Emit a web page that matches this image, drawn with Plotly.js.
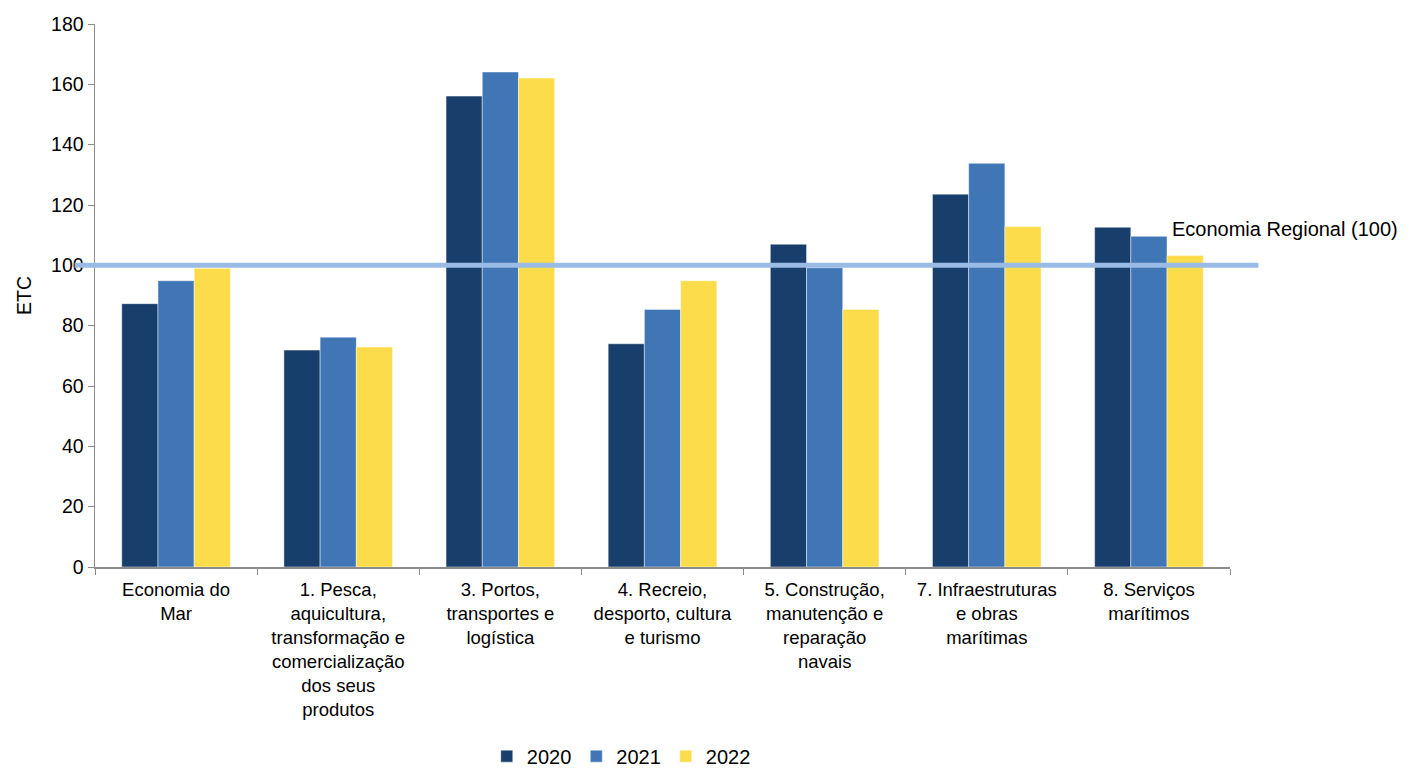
<!DOCTYPE html>
<html>
<head>
<meta charset="utf-8">
<script src="https://cdn.plot.ly/plotly-3.0.1.min.js"></script>
<style>html,body{margin:0;padding:0;background:#fff;}#chart{width:1412px;height:770px;}</style>
</head>
<body>
<div id="chart"></div>
<script>
const categories = [
  "Economia do<br>Mar",
  "1. Pesca,<br>aquicultura,<br>transformação e<br>comercialização<br>dos seus<br>produtos",
  "3. Portos,<br>transportes e<br>logística",
  "4. Recreio,<br>desporto, cultura<br>e turismo",
  "5. Construção,<br>manutenção e<br>reparação<br>navais",
  "7. Infraestruturas<br>e obras<br>marítimas",
  "8. Serviços<br>marítimos"
];
const values2020 = [87.3, 71.9, 156.1, 74.0, 107.0, 123.6, 112.6];
const values2021 = [94.9, 76.2, 164.1, 85.4, 99.2, 133.8, 109.6];
const values2022 = [99.0, 72.9, 162.1, 94.9, 85.4, 112.9, 103.3];
const seriesNames = ["2020", "2021", "2022"];
const referenceValue = 100;
const referenceLabel = "Economia Regional (100)";
const yTickValues = [0, 20, 40, 60, 80, 100, 120, 140, 160, 180];

const colors = ["#183f6b", "#4076b5", "#fcdc4b"];
const allValues = [values2020, values2021, values2022];
const traces = allValues.map((v, i) => ({
  type: "bar",
  name: seriesNames[i],
  x: categories,
  y: v,
  marker: {color: colors[i], line: {color: "rgba(255,255,255,0.45)", width: 1}},
  hoverinfo: "skip"
}));

const fam = "Liberation Sans, Arial, sans-serif";
const font = {family: fam, size: 19.5, color: "#000"};

const layout = {
  width: 1412, height: 770,
  margin: {l: 95, r: 182, t: 24, b: 203},
  paper_bgcolor: "#fff", plot_bgcolor: "#fff",
  font: font,
  barmode: "group",
  bargap: 0.33,
  bargroupgap: 0,
  showlegend: true,
  legend: {
    orientation: "h",
    xref: "container", yref: "container",
    x: 0.44, xanchor: "center",
    y: 0.018, yanchor: "middle",
    font: {family: fam, size: 20, color: "#000"},
    itemwidth: 30,
    traceorder: "normal"
  },
  xaxis: {
    type: "category",
    showline: true, linecolor: "#8c8c8c", linewidth: 1.5,
    ticks: "outside", tickson: "boundaries", ticklen: 6, tickcolor: "#8c8c8c",
    showgrid: false, zeroline: false,
    tickfont: {family: fam, size: 18.5, color: "#000"},
    ticklabelstandoff: 5,
    automargin: false
  },
  yaxis: {
    range: [0, 180],
    tickvals: yTickValues,
    ticktext: yTickValues.map(String),
    showline: true, linecolor: "#8c8c8c", linewidth: 1.5,
    ticks: "outside", ticklen: 6, tickcolor: "#8c8c8c",
    showgrid: false, zeroline: false,
    tickfont: font,
    title: {text: "ETC", font: font, standoff: 14},
    automargin: false
  },
  shapes: [{
    type: "line", xref: "paper", yref: "y",
    x0: -0.018, x1: 1.025, y0: referenceValue, y1: referenceValue,
    line: {color: "#99bbe5", width: 5},
    layer: "above"
  }],
  annotations: [{
    text: referenceLabel,
    xref: "paper", yref: "y",
    x: 0.947, xanchor: "left",
    y: 112, yanchor: "middle",
    showarrow: false,
    font: {family: fam, size: 20, color: "#000"}
  }]
};

Plotly.newPlot("chart", traces, layout, {staticPlot: true, displayModeBar: false});
</script>
</body>
</html>
